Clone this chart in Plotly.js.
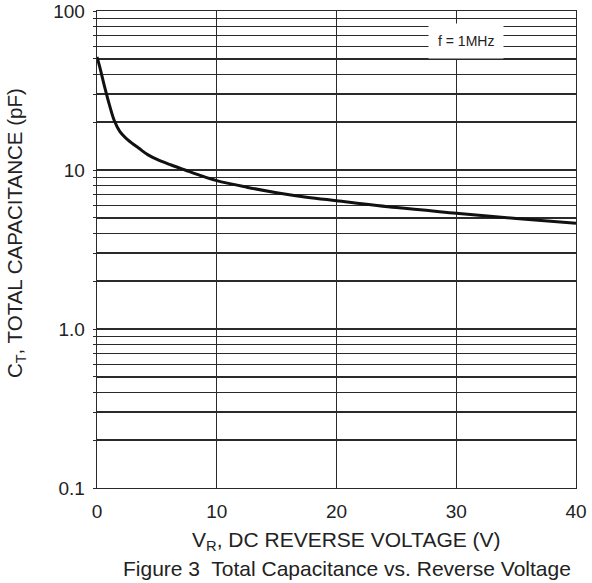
<!DOCTYPE html>
<html>
<head>
<meta charset="utf-8">
<script src="https://cdn.plot.ly/plotly-3.0.1.min.js"></script>
<style>html,body{margin:0;padding:0;background:#fff;}#chart{width:592px;height:583px;}</style>
</head>
<body>
<div id="chart"></div>
<script>
// Data
const voltage = [0, 0.28, 0.6, 1.05, 1.45, 1.9, 2.6, 3.5, 4.3, 5.2, 6.2, 7.35, 8.6, 10, 12.5, 15, 17.5, 20, 25, 30, 35, 40];
const capacitance = [51.4, 43, 34.2, 25.5, 20.4, 17.5, 15.4, 13.7, 12.4, 11.5, 10.75, 10, 9.25, 8.57, 7.8, 7.2, 6.75, 6.41, 5.8, 5.35, 4.95, 4.63];

// Grid / tick values
const xTickVals = [0, 10, 20, 30, 40];
const yTickVals = [0.1,0.2,0.3,0.4,0.5,0.6,0.7,0.8,0.9,1,2,3,4,5,6,7,8,9,10,20,30,40,50,60,70,80,90,100];
const yLabelMap = {0.1: '0.1', 1: '1.0', 10: '10', 100: '100'};
const yTickText = yTickVals.map(v => yLabelMap[v] || '');

const xTitle = 'V<sub>R</sub>, DC REVERSE VOLTAGE (V)';
const yTitle = 'C<sub>T</sub>, TOTAL CAPACITANCE (pF)';
const caption = 'Figure 3  Total Capacitance vs. Reverse Voltage';
const noteText = 'f = 1MHz';

const font = 'Liberation Sans, Arial, sans-serif';
const gridColor = '#2a2a2a';
const textColor = '#222';

const trace = {
  x: voltage, y: capacitance, type: 'scatter', mode: 'lines',
  line: {color: '#111', width: 3, shape: 'spline', smoothing: 1},
  hoverinfo: 'skip'
};

const layout = {
  width: 592, height: 583,
  margin: {l: 97, r: 16, t: 11, b: 95},
  paper_bgcolor: '#fff', plot_bgcolor: '#fff',
  showlegend: false,
  font: {family: font, color: textColor, size: 19},
  xaxis: {
    range: [0, 40], tickvals: xTickVals, ticktext: xTickVals.map(String),
    showgrid: true, gridcolor: gridColor, gridwidth: 1.3,
    showline: true, linecolor: gridColor, linewidth: 1.3, mirror: true,
    zeroline: false, ticks: '', ticklabelstandoff: 6,
    tickfont: {family: font, size: 19, color: textColor}
  },
  yaxis: {
    type: 'log', range: [-1, 2], tickvals: yTickVals, ticktext: yTickText,
    showgrid: true, gridcolor: gridColor, gridwidth: 1.3,
    showline: true, linecolor: gridColor, linewidth: 1.3, mirror: true,
    zeroline: false, ticks: 'outside', ticklen: 3, tickcolor: gridColor,
    ticklabelstandoff: 4,
    tickfont: {family: font, size: 19, color: textColor}
  },
  annotations: [
    {text: noteText, xref: 'x', yref: 'y', x: 30.8, y: Math.log10(65),
     showarrow: false, bgcolor: '#fff', borderpad: 9,
     font: {family: font, size: 14, color: textColor}},
    {text: xTitle, xref: 'paper', yref: 'paper', x: (346 - 97) / 479, y: -(541 - 488) / 477,
     xanchor: 'center', yanchor: 'middle', showarrow: false,
     font: {family: font, size: 21, color: textColor}},
    {text: caption, xref: 'paper', yref: 'paper', x: (347 - 97) / 479, y: -(568 - 488) / 477,
     xanchor: 'center', yanchor: 'middle', showarrow: false,
     font: {family: font, size: 21, color: textColor}},
    {text: yTitle, xref: 'paper', yref: 'paper', x: (16 - 97) / 479, y: (488 - 233) / 477,
     xanchor: 'center', yanchor: 'middle', textangle: -90, showarrow: false,
     font: {family: font, size: 20.5, color: textColor}}
  ]
};

Plotly.newPlot('chart', [trace], layout, {staticPlot: true, displayModeBar: false});
</script>
</body>
</html>
